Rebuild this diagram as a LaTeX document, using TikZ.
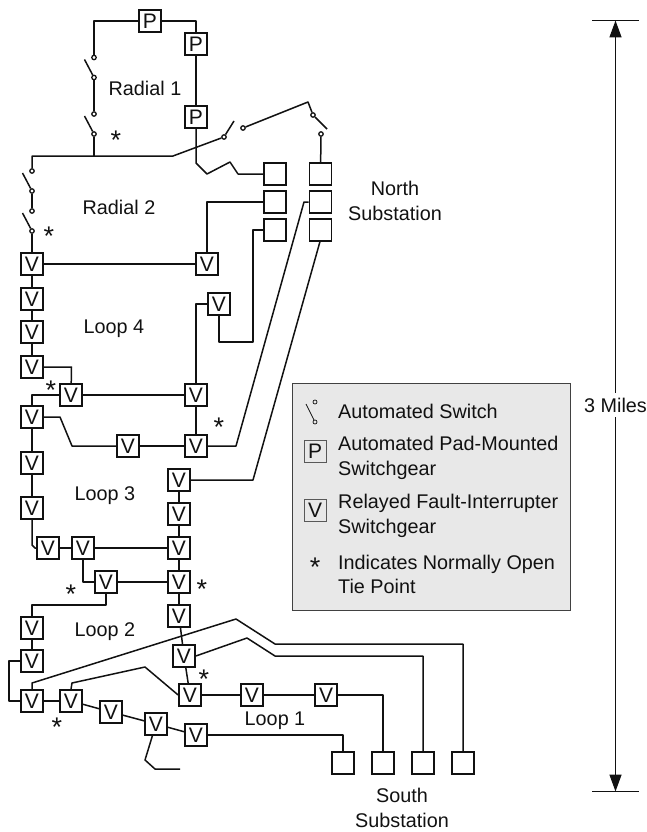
\documentclass[tikz,border=0pt]{standalone}
\usepackage{fontspec}
\setmainfont{Liberation Sans}
\usetikzlibrary{arrows.meta}
\definecolor{ink}{HTML}{111111}
\definecolor{panel}{HTML}{E8E8E8}
\tikzset{
  wire/.style={draw=ink,line width=1.5pt,line join=round},
  sw/.style={draw=ink,fill=white,line width=1.7pt,minimum size=22pt,inner sep=0pt,font=\fontsize{21}{21}\selectfont,text=ink},
  term/.style={circle,draw=ink,fill=white,line width=1.3pt,minimum size=4.4pt,inner sep=0pt},
  lab/.style={text=ink,font=\fontsize{19.8}{24.5}\selectfont,inner sep=0pt},
  legtxt/.style={lab,anchor=west,align=left},
  star/.style={text=ink,font=\fontsize{27}{27}\selectfont,inner sep=0pt},
  legbox/.style={draw=ink!70,fill=panel,line width=.8pt,minimum size=22pt,inner sep=0pt,font=\fontsize{21}{21}\selectfont,text=ink},
  dimline/.style={draw=ink,line width=1.5pt},
  dimarrow/.style={dimline,-{Triangle[length=17pt,width=12pt]}},
}
\newcommand{\starmark}[3]{\node[star] (#1) at (#2,#3) {*};}
\begin{document}
\begin{tikzpicture}[x=1pt,y=-1pt]
\useasboundingbox (0,0) rectangle (646,832);
% legend panel
\node[draw=ink!80,fill=panel,line width=.9pt,minimum width=278pt,minimum height=227pt,inner sep=0pt] (panel) at (431,497) {};
% switchgear
\foreach \n/\x/\y/\t in {
 p1/150/21/P,p2/196/44/P,p3/196/117/P,
 n1/275/174/,n2/275/202/,n3/275/230/,n4/320.5/174/,n5/320.5/202/,n6/320.5/230/,
 a1/32/264/V,a2/207/264/V,a3/32/299/V,a4/32/332/V,a5/32/367/V,a6/219/304/V,
 b1/71/395/V,b2/196/395/V,b3/32/417/V,b4/128/446/V,b5/196/446/V,
 c1/179/480/V,c2/32/463/V,c3/32/508/V,c4/179/514/V,c5/48/548/V,c6/83/548/V,c7/179/548/V,
 d1/106/582/V,d2/179/582/V,d3/179/616/V,d4/32/628/V,d5/32/661/V,d6/184/656/V,
 e1/190/695/V,e2/252/695/V,e3/326/695/V,e4/32/701/V,e5/71/701/V,e6/111/712/V,e7/156/724/V,e8/196/735/V,
 s1/343/763/,s2/383/763/,s3/423/763/,s4/463/763/}
  {\node[sw] (\n) at (\x,\y) {\t};}
% terminals
\node[term] (t1) at (94,57.5) {};
\node[term] (t2) at (94,77.5) {};
\node[term] (t3) at (94,114) {};
\node[term] (t4) at (94,134) {};
\node[term] (t5) at (32,171) {};
\node[term] (t6) at (32,191) {};
\node[term] (t7) at (32,211) {};
\node[term] (t8) at (32,231) {};
\node[term] (t9) at (224,137) {};
\node[term] (t10) at (243,128) {};
\node[term] (t11) at (313,115) {};
\node[term] (t12) at (321,134) {};
\coordinate (j1) at (94,156);
\begin{scope}[wire]
% switch blades
\draw (t1.center) ++(-9.5,2) coordinate (q1) -- (t2);
\draw (t3.center) ++(-9.5,2) coordinate (q2) -- (t4);
\draw (t5.center) ++(-9.5,2) coordinate (q3) -- (t6);
\draw (t7.center) ++(-9.5,2) coordinate (q4) -- (t8);
\draw (t9) -- (234,121);
\draw (t11) -- (327,129);
% radial 1
\draw (p1) -| (t1);
\draw (p1) -- (p2.north |- p1) -- (p2);
\draw (t2) -- (t3);
\draw (t4) -- (j1);
\draw (p2) -- (p3);
\draw (p3) -- (196,163) -- (207,174) -- (230,162) -- (238,174) -- (n1);
\draw (t5) -- (32,156) -- (173,156) -- (t9);
\draw (t10) -- (308,102) -- (t11);
\draw (t12) -- (n4);
% radial 2
\draw (t6) -- (t7);
\draw (t8) -- (a1);
\draw (a1) -- (a2);
\draw (n2) -| (a2);
\draw (n3.west) -- (253,230) -- (253,342) -- (219,342) -- (a6);
\draw (a6) -- (196,304) -- (b2);
\draw (a1) -- (a3); \draw (a3) -- (a4); \draw (a4) -- (a5);
\draw (a5.east) -- (71.5,367) -- (b1);
\draw (b1) -- (b2);
\draw (b1.west) -- (32,395) -- (b3);
\draw (b2) -- (b5);
\draw (b3.east) -- (60,417) -- (72,446) -- (b4);
\draw (b4) -- (b5);
\draw (b5) -- (236,446) -- (304,202) -- (n5);
\draw (c1) -- (253,480) -- (320,241.5);
\draw (b3) -- (c2); \draw (c2) -- (c3);
\draw (c3) -- (32,545) -- (35,548) -- (c5);
\draw (c5) -- (c6); \draw (c6) -- (c7);
\draw (c1) -- (c4); \draw (c4) -- (c7); \draw (c7) -- (d2); \draw (d2) -- (d3);
\draw (c6) -- (83,582) -- (d1);
\draw (d1) -- (d2);
\draw (d1) -- (106,605) -- (32,605) -- (d4);
\draw (d4) -- (d5);
\draw (d5.west) -- (9,661) -- (9,701) -- (e4);
\draw (e4) -- (e5);
\draw (e5) -- (e6); \draw (e6) -- (e7); \draw (e7) -- (e8);
\draw (d3) -- (d6); \draw (d6) -- (e1);
\draw (e1) -- (e2); \draw (e2) -- (e3);
\draw (e3) -- (383,695) -- (s2);
\draw (e8) -- (343,735) -- (s1);
\draw (d6.east) -- (247,638) -- (275,656) -- (423,656) -- (s3);
\draw (e4.north) -- (32,683) -- (236,619) -- (275,644) -- (463,644) -- (s4);
\draw (e5.north) -- (72,683) -- (145,667) -- (e1.west);
\draw (e7) -- (145,760) -- (155,769) -- (180,769);
\end{scope}
% stars
\starmark{st1}{116}{140}
\starmark{st2}{49}{236}
\starmark{st3}{51}{390}
\starmark{st4}{219}{427}
\starmark{st5}{71}{594}
\starmark{st6}{202}{589}
\starmark{st7}{204}{679}
\starmark{st8}{57}{727}
% labels
\node[lab] (l1) at (145,88) {Radial 1};
\node[lab] (l2) at (119,207) {Radial 2};
\node[lab] (l3) at (114,329) {Loop 4};
\node[lab] (l4) at (105,496) {Loop 3};
\node[lab] (l5) at (105,632) {Loop 2};
\node[lab] (l6) at (275,721) {Loop 1};
\node[lab,align=center] (l7) at (395,201) {North\\Substation};
\node[lab,align=center] (l8) at (402,808) {South\\Substation};
% legend
\node[term,line width=.7pt,minimum size=4pt,fill=panel] (k1) at (315,402) {};
\node[term,line width=.7pt,minimum size=4pt,fill=panel] (k2) at (315,422) {};
\draw[draw=ink,line width=.8pt] (306,404) -- (k2);
\node[legbox] (k3) at (315,451) {P};
\node[legbox] (k4) at (315,510) {V};
\node[star] (k5) at (315,567) {*};
\node[legtxt] (m1) at (338,411) {Automated Switch};
\node[legtxt] (m2) at (338,458) {Automated Pad-Mounted\\Switchgear};
\node[legtxt] (m3) at (338,516) {Relayed Fault-Interrupter\\Switchgear};
\node[legtxt] (m4) at (338,574.5) {Indicates Normally Open\\Tie Point};
% dimension
\coordinate (dt) at (592,20.5); \coordinate (dtr) at (639,20.5);
\coordinate (db) at (592,791.5); \coordinate (dbr) at (639,791.5);
\draw[dimline] (dt) -- (dtr);
\draw[dimline] (db) -- (dbr);
\node[lab,fill=white,inner ysep=5pt,inner xsep=0pt] (dl) at (615.5,405) {3 Miles};
\draw[dimarrow] (dl.north) -- (615.5,20.5);
\draw[dimarrow] (dl.south) -- (615.5,791.5);
\end{tikzpicture}
\end{document}
